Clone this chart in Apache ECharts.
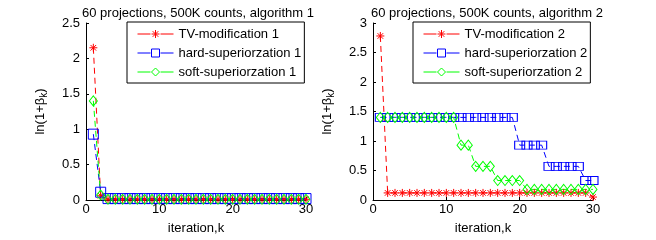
<!DOCTYPE html>
<html>
<head>
<meta charset="utf-8">
<script src="https://cdn.jsdelivr.net/npm/echarts@6/dist/echarts.min.js"></script>
<style>
html,body{margin:0;padding:0;background:#fff;}
#chart{width:656px;height:240px;}
</style>
</head>
<body>
<div id="chart"></div>
<script>
const iterations = [1,2,3,4,5,6,7,8,9,10,11,12,13,14,15,16,17,18,19,20,21,22,23,24,25,26,27,28,29,30];
const xTicks = [0, 10, 20, 30];
const yTicks1 = [0, 0.5, 1, 1.5, 2, 2.5];
const yTicks2 = [0, 0.5, 1, 1.5, 2, 2.5, 3];

const tvMod1   = [2.15,0.06,0.01,0.01,0.01,0.01,0.01,0.01,0.01,0.01,0.01,0.01,0.01,0.01,0.01,0.01,0.01,0.01,0.01,0.01,0.01,0.01,0.01,0.01,0.01,0.01,0.01,0.01,0.01,0.01];
const hardSup1 = [0.93,0.11,0.02,0.02,0.02,0.02,0.02,0.02,0.02,0.02,0.02,0.02,0.02,0.02,0.02,0.02,0.02,0.02,0.02,0.02,0.02,0.02,0.02,0.02,0.02,0.02,0.02,0.02,0.02,0.02];
const softSup1 = [1.40,0.07,0.01,0.01,0.01,0.01,0.01,0.01,0.01,0.01,0.01,0.01,0.01,0.01,0.01,0.01,0.01,0.01,0.01,0.01,0.01,0.01,0.01,0.01,0.01,0.01,0.01,0.01,0.01,0.01];

const tvMod2   = [2.78,0.12,0.12,0.12,0.12,0.12,0.12,0.12,0.12,0.12,0.12,0.12,0.12,0.12,0.12,0.12,0.12,0.12,0.12,0.12,0.12,0.12,0.12,0.12,0.12,0.12,0.12,0.12,0.12,0.05];
const hardSup2 = [1.40,1.40,1.40,1.40,1.40,1.40,1.40,1.40,1.40,1.40,1.40,1.40,1.40,1.40,1.40,1.40,1.40,1.40,1.40,0.93,0.93,0.93,0.93,0.57,0.57,0.57,0.57,0.57,0.33,0.33];
const softSup2 = [1.40,1.40,1.40,1.40,1.40,1.40,1.40,1.40,1.40,1.40,1.40,0.93,0.93,0.57,0.57,0.57,0.33,0.33,0.33,0.33,0.18,0.18,0.18,0.18,0.18,0.18,0.18,0.18,0.18,0.18];

const names1 = ['TV-modification 1','hard-superiorzation 1','soft-superiorzation 1'];
const names2 = ['TV-modification 2','hard-superiorzation 2','soft-superiorzation 2'];
const titles = ['60 projections, 500K counts, algorithm 1','60 projections, 500K counts, algorithm 2'];

const FONT = '"Liberation Sans", Arial, Helvetica, sans-serif';
const FS = 13;
const RED = '#ff0000', BLUE = '#0000ff', GREEN = '#00ff00';
const STAR = 'path://M0,-10L0,10M-10,0L10,0M-7,-7L7,7M-7,7L7,-7';
const DASH = [6, 4];

function pairs(vals){ return iterations.map((k,i)=>[k, vals[i]]); }

function mkSeries(name, vals, color, symbol, size, idx){
  return {
    type:'line', name:name, xAxisIndex:idx, yAxisIndex:idx,
    data:pairs(vals), clip:false,
    symbol:symbol, symbolSize:size, showAllSymbol:true,
    lineStyle:{color:color, width:1, type:DASH},
    itemStyle:{color:'none', borderColor:color, borderWidth:1},
    emphasis:{disabled:true}, animation:false
  };
}

function mkX(gi){
  return {
    gridIndex:gi, type:'value', min:0, max:30, interval:10,
    name:'iteration,k', nameLocation:'middle', nameGap:22,
    nameTextStyle:{fontFamily:FONT, fontSize:FS, color:'#000'},
    axisLine:{lineStyle:{color:'#000', width:1}},
    axisTick:{inside:true, length:3, lineStyle:{color:'#000'}},
    axisLabel:{fontFamily:FONT, fontSize:FS, color:'#000', margin:3},
    splitLine:{show:false}
  };
}
function mkY(gi, max){
  return {
    gridIndex:gi, type:'value', min:0, max:max, interval:0.5,
    name:'{a|ln(1+β}{s|k}{a|)}', nameLocation:'middle', nameRotate:90, nameGap:37,
    nameTextStyle:{fontFamily:FONT, fontSize:FS, color:'#000',
      rich:{a:{fontFamily:FONT, fontSize:FS, color:'#000', lineHeight:18, verticalAlign:'middle'},
            s:{fontFamily:FONT, fontSize:10, color:'#000', lineHeight:10, verticalAlign:'bottom'}}},
    axisLine:{show:true, lineStyle:{color:'#000', width:1}},
    axisTick:{show:true, inside:true, length:3, lineStyle:{color:'#000'}},
    axisLabel:{fontFamily:FONT, fontSize:FS, color:'#000', margin:6},
    splitLine:{show:false}
  };
}
function mkLegend(names, left){
  return {
    data:names, orient:'vertical', left:left, top:22,
    itemWidth:36, itemHeight:10, itemGap:5,
    padding:[5,3,4,10],
    backgroundColor:'#fff', borderColor:'#000', borderWidth:1, borderRadius:0,
    selectedMode:false,
    itemStyle:{color:'none', borderWidth:1},
    lineStyle:{width:1, type:[13,10]},
    textStyle:{fontFamily:FONT, fontSize:FS, color:'#000', lineHeight:14}
  };
}

const chart = echarts.init(document.getElementById('chart'), null, {renderer:'canvas'});
chart.setOption({
  animation:false,
  backgroundColor:'#fff',
  title:[
    {text:titles[0], left:193, top:2, textAlign:'center', textStyle:{fontFamily:FONT, fontSize:FS, fontWeight:'normal', color:'#000'}},
    {text:titles[1], left:482, top:2, textAlign:'center', textStyle:{fontFamily:FONT, fontSize:FS, fontWeight:'normal', color:'#000'}}
  ],
  grid:[
    {left:86, top:23, width:220, height:179},
    {left:373, top:23, width:220, height:179}
  ],
  xAxis:[mkX(0), mkX(1)],
  yAxis:[mkY(0, 2.5), mkY(1, 3)],
  legend:[mkLegend(names1, 127), mkLegend(names2, 413)],
  series:[
    mkSeries(names1[0], tvMod1, RED, STAR, 8, 0),
    mkSeries(names1[1], hardSup1, BLUE, 'rect', 10, 0),
    mkSeries(names1[2], softSup1, GREEN, 'diamond', [8,10], 0),
    mkSeries(names2[0], tvMod2, RED, STAR, 8, 1),
    mkSeries(names2[1], hardSup2, BLUE, 'rect', [10,8], 1),
    mkSeries(names2[2], softSup2, GREEN, 'diamond', [8,10], 1)
  ]
});
</script>
</body>
</html>
